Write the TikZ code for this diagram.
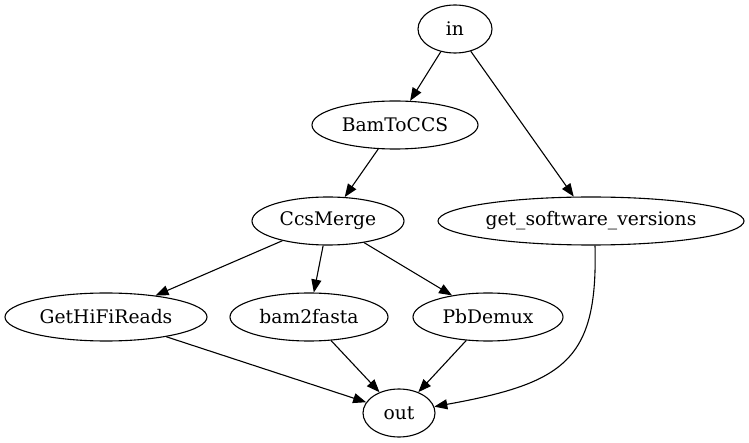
\documentclass[tikz,border=0pt]{standalone}
\usepackage{fontspec}
\setmainfont{DejaVu Serif}
\usetikzlibrary{shapes.geometric,arrows.meta}
\tikzset{
  gnode/.style={ellipse, draw, line width=1.1pt, inner sep=0pt, minimum height=48pt,
    font=\fontsize{18.7}{22}\selectfont},
  gedge/.style={draw, line width=1.1pt, -{Triangle[length=13pt,width=10pt]}},
}
\begin{document}
\begin{tikzpicture}[x=1pt,y=-1pt]
\useasboundingbox (0,0) rectangle (749,443);
\node[gnode, minimum width=74pt]  (in)  at (455,29)  {in};
\node[gnode, minimum width=166pt] (bam) at (395,125) {BamToCCS};
\node[gnode, minimum width=152pt] (ccs) at (328,221) {CcsMerge};
\node[gnode, minimum width=306pt] (gsv) at (591,221) {get\_software\_versions};
\node[gnode, minimum width=202pt] (hifi) at (106,317) {GetHiFiReads};
\node[gnode, minimum width=158pt] (b2f) at (309,317) {bam2fasta};
\node[gnode, minimum width=150pt] (pbd) at (488,317) {PbDemux};
\node[gnode, minimum width=72pt]  (out) at (399,413) {out};
\path[gedge] (in) -- (bam);
\path[gedge] (in) -- (gsv);
\path[gedge] (bam) -- (ccs);
\path[gedge] (ccs) -- (hifi);
\path[gedge] (ccs) -- (b2f);
\path[gedge] (ccs) -- (pbd);
\path[gedge] (hifi) -- (out);
\path[gedge] (b2f) -- (out);
\path[gedge] (pbd) -- (out);
\coordinate (gsvs) at ([xshift=4pt]gsv.south);
\path[gedge] (gsvs) .. controls (598,360) and (565,383) .. (out);
\end{tikzpicture}
\end{document}
